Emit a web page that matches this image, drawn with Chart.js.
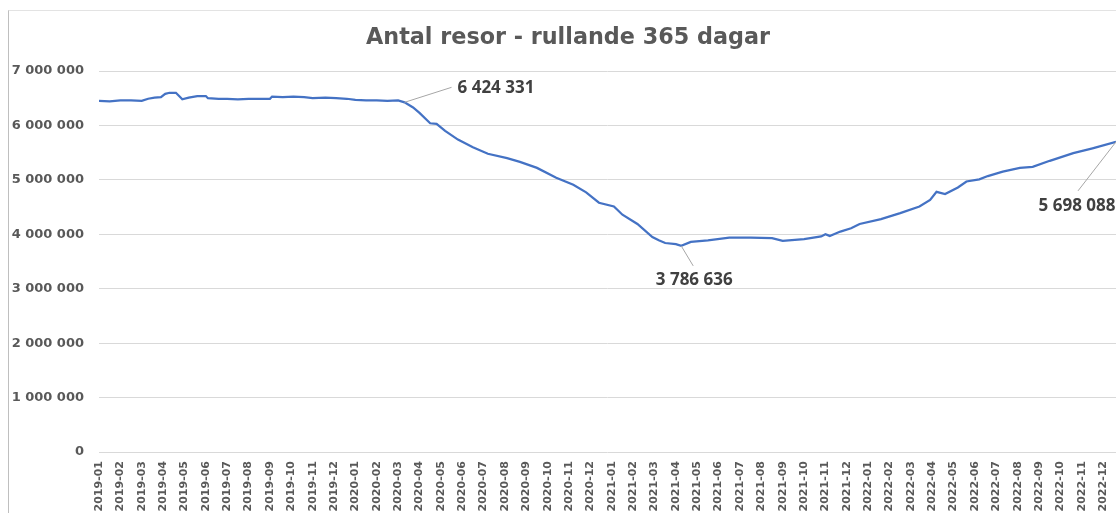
<!DOCTYPE html>
<html>
<head>
<meta charset="utf-8">
<script src="https://cdn.jsdelivr.net/npm/chart.js@4.4.0/dist/chart.umd.min.js"></script>
<style>
    body { margin: 0; background: #fff; }
    #wrap { position: relative; width: 1116px; height: 513px; overflow: hidden; }
    #ram { position: absolute; left: 8px; top: 10px; right: -2px; bottom: -2px;
           border-left: 1px solid #bfbfbf; border-top: 1px solid #e3e3e3; pointer-events: none; }
</style>
</head>
<body>
<div id="wrap">
    <canvas id="grafico" width="1116" height="513"></canvas>
    <div id="ram"></div>
</div>
<script>
// Etiketter på x-axeln (en per månad)
const manader = [
    '2019-01', '2019-02', '2019-03', '2019-04', '2019-05', '2019-06', '2019-07', '2019-08', '2019-09', '2019-10', '2019-11', '2019-12',
    '2020-01', '2020-02', '2020-03', '2020-04', '2020-05', '2020-06', '2020-07', '2020-08', '2020-09', '2020-10', '2020-11', '2020-12',
    '2021-01', '2021-02', '2021-03', '2021-04', '2021-05', '2021-06', '2021-07', '2021-08', '2021-09', '2021-10', '2021-11', '2021-12',
    '2022-01', '2022-02', '2022-03', '2022-04', '2022-05', '2022-06', '2022-07', '2022-08', '2022-09', '2022-10', '2022-11', '2022-12'
];

// Position i månader räknat från 2019-01
const manadPos = [
    0.0, 0.5, 1.0, 1.5, 2.0, 2.3, 2.6, 2.9, 3.1, 3.3, 3.6, 3.9, 4.2, 4.6, 5.0, 5.1, 5.6, 6.0, 6.5, 7.0,
    7.5, 8.0, 8.1, 8.6, 9.1, 9.6, 10.0, 10.6, 11.1, 11.6, 12.0, 12.5, 13.0, 13.5, 14.0, 14.3, 14.7, 15.0, 15.5, 15.8,
    16.2, 16.8, 17.5, 18.2, 19.1, 19.7, 20.5, 21.4, 22.2, 22.8, 23.4, 24.1, 24.5, 25.2, 25.9, 26.2, 26.5, 27.0, 27.25, 27.7,
    28.5, 29.5, 30.5, 31.5, 32.0, 33.0, 33.8, 34.0, 34.2, 34.7, 35.2, 35.6, 36.6, 37.5, 38.4, 38.9, 39.2, 39.6, 40.2, 40.6,
    41.2, 41.6, 42.3, 43.1, 43.7, 44.5, 45.6, 46.5, 47.6
];

// Antal resor, rullande 365 dagar
const resor = [
    6450000, 6440000, 6460000, 6460000, 6450000, 6490000, 6510000, 6520000, 6580000, 6600000, 6600000, 6480000, 6510000, 6540000, 6540000, 6500000, 6490000, 6490000, 6480000, 6490000,
    6490000, 6490000, 6530000, 6520000, 6530000, 6520000, 6500000, 6510000, 6500000, 6490000, 6470000, 6460000, 6460000, 6450000, 6460000, 6424331, 6330000, 6230000, 6040000, 6030000,
    5900000, 5740000, 5600000, 5480000, 5400000, 5330000, 5220000, 5040000, 4910000, 4770000, 4580000, 4510000, 4360000, 4190000, 3950000, 3890000, 3840000, 3820000, 3786636, 3860000,
    3890000, 3940000, 3940000, 3930000, 3880000, 3910000, 3960000, 4000000, 3970000, 4050000, 4110000, 4190000, 4280000, 4390000, 4510000, 4630000, 4780000, 4740000, 4860000, 4970000,
    5010000, 5070000, 5150000, 5220000, 5240000, 5350000, 5490000, 5580000, 5698088
];

const rubrik = 'Antal resor - rullande 365 dagar';

// Y-axelns gränser
const yMax = 7000000;
const ySteg = 1000000;

// Tusentalsavgränsare med mellanslag
function formatera(v) {
    return String(Math.round(v)).replace(/\B(?=(\d{3})+(?!\d))/g, ' ');
}

// Etiketter med hänvisningslinje
const etiketter = [
    { vid: 14.3, lx: 47, ly: -15, tx: 53, ty: -14, align: 'left' },
    { vid: 27.25, lx: 12, ly: 20, tx: 13, ty: 34, align: 'center' },
    { vid: 47.6, lx: -38, ly: 49, tx: -39, ty: 64, align: 'center' }
];

// Rubrik något till höger om mitten, som i Excel-diagrammet
const rubrikPlugin = {
    id: 'rubrik',
    afterDraw(chart) {
        const ctx = chart.ctx;
        ctx.save();
        ctx.fillStyle = '#595959';
        ctx.font = 'bold 22.3px "DejaVu Sans"';
        ctx.textAlign = 'center';
        ctx.textBaseline = 'middle';
        ctx.fillText(rubrik, 568, 38);
        ctx.restore();
    }
};

const etikettPlugin = {
    id: 'etiketter',
    afterDatasetsDraw(chart) {
        const ctx = chart.ctx;
        const meta = chart.getDatasetMeta(0);
        ctx.save();
        etiketter.forEach(e => {
            const i = manadPos.indexOf(e.vid);
            const p = meta.data[i];
            ctx.strokeStyle = '#a6a6a6';
            ctx.lineWidth = 1;
            ctx.beginPath();
            ctx.moveTo(p.x, p.y);
            ctx.lineTo(p.x + e.lx, p.y + e.ly);
            ctx.stroke();
            ctx.fillStyle = '#404040';
            ctx.font = 'bold 17px "Open Sans"';
            ctx.textAlign = e.align;
            ctx.textBaseline = 'middle';
            ctx.fillText(formatera(resor[i]), p.x + e.tx, p.y + e.ty);
        });
        ctx.restore();
    }
};

document.addEventListener('DOMContentLoaded', () => {
    const ctx = document.getElementById('grafico').getContext('2d');
    const punkter = manadPos.map((m, i) => ({ x: m, y: resor[i] }));

    new Chart(ctx, {
        type: 'line',
        data: {
            datasets: [{
                label: 'Antal resor',
                data: punkter,
                borderColor: '#4472c4',
                borderWidth: 2.25,
                pointRadius: 0,
                tension: 0,
                fill: false
            }]
        },
        options: {
            responsive: false,
            animation: false,
            layout: { padding: { left: 0, right: 0, top: 71, bottom: 0 } },
            plugins: {
                legend: { display: false },
                tooltip: { enabled: false },
                title: { display: false }
            },
            scales: {
                x: {
                    type: 'linear',
                    min: 0,
                    max: manadPos[manadPos.length - 1],
                    afterBuildTicks: scale => {
                        scale.ticks = manader.map((_, i) => ({ value: i }));
                    },
                    afterFit: scale => {
                        scale.height = 61;
                        scale.paddingLeft = 0;
                        scale.paddingRight = 0;
                    },
                    grid: { display: false, drawTicks: false },
                    border: { display: false },
                    ticks: {
                        autoSkip: false,
                        maxRotation: 90,
                        minRotation: 90,
                        padding: 9,
                        color: '#595959',
                        font: { family: 'DejaVu Sans', size: 11, weight: 'bold' },
                        callback: v => manader[v]
                    }
                },
                y: {
                    min: 0,
                    max: yMax,
                    afterFit: scale => { scale.width = 99; },
                    grid: { color: '#d9d9d9', lineWidth: 1, drawTicks: false },
                    border: { display: false },
                    ticks: {
                        stepSize: ySteg,
                        padding: 15,
                        color: '#595959',
                        font: { family: 'DejaVu Sans', size: 13, weight: 'bold' },
                        callback: v => formatera(v)
                    }
                }
            }
        },
        plugins: [etikettPlugin, rubrikPlugin]
    });
});
</script>
</body>
</html>
